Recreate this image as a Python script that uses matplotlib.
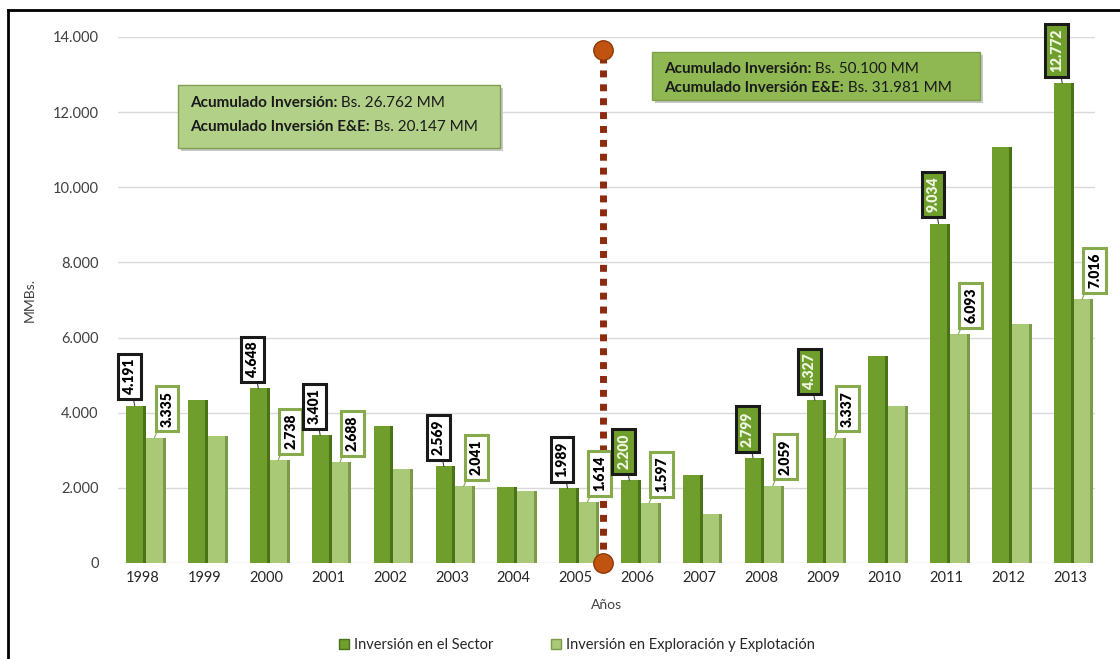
import matplotlib.pyplot as plt
import numpy as np
from matplotlib.patches import FancyBboxPatch, Patch
from matplotlib.lines import Line2D
from matplotlib.text import Annotation

plt.rcParams['font.family'] = ['Lato', 'DejaVu Sans']

years = ['1998', '1999', '2000', '2001', '2002', '2003', '2004', '2005',
         '2006', '2007', '2008', '2009', '2010', '2011', '2012', '2013']
sector = [4191, 4330, 4648, 3401, 3650, 2569, 2010, 1989,
          2200, 2350, 2799, 4327, 5500, 9034, 11060, 12772]
exploracion = [3335, 3380, 2738, 2688, 2500, 2041, 1920, 1614,
               1597, 1310, 2059, 3337, 4170, 6093, 6350, 7016]
# labels shown in the chart (None = no label)
sector_lbl = ['4.191', None, '4.648', '3.401', None, '2.569', None, '1.989',
              '2.200', None, '2.799', '4.327', None, '9.034', None, '12.772']
explor_lbl = ['3.335', None, '2.738', '2.688', None, '2.041', None, '1.614',
              '1.597', None, '2.059', '3.337', None, '6.093', None, '7.016']
yticks = [0, 2000, 4000, 6000, 8000, 10000, 12000, 14000]
ytick_labels = ['0', '2.000', '4.000', '6.000', '8.000', '10.000', '12.000', '14.000']
split_pos = 7.45
box_left = ['Acumulado Inversión:', ' Bs. 26.762 MM',
            'Acumulado Inversión E&E:', ' Bs. 20.147 MM']
box_right = ['Acumulado Inversión:', ' Bs. 50.100 MM',
             'Acumulado Inversión E&E:', ' Bs. 31.981 MM']

dark = '#6f9e2c'
dark_side = '#4a7318'
light = '#a9c977'
light_side = '#7c9b4a'

fig = plt.figure(figsize=(11.2, 6.59), dpi=100)
ax = fig.add_axes([118 / 1120, 1 - 563 / 659, (1095 - 118) / 1120, (563 - 37) / 659])

x = np.arange(len(years))
w = 0.27
side = 0.05
ax.bar(x - 0.13, sector, w, color=dark, zorder=3)
ax.bar(x - 0.13 + w / 2 + side / 2, sector, side, color=dark_side, zorder=3)
ax.bar(x + 0.19, exploracion, w, color=light, zorder=3)
ax.bar(x + 0.19 + w / 2 + side / 2, exploracion, side, color=light_side, zorder=3)

ax.set_xlim(-0.4, 15.4)
ax.set_ylim(0, 14000)
ax.set_yticks(yticks)
ax.set_yticklabels(ytick_labels, color='#404040', fontsize=10.5)
ax.set_xticks(x)
ax.set_xticklabels(years, color='#262626', fontsize=10.5)
ax.tick_params(length=0, pad=14)
ax.tick_params(axis='x', pad=6)
ax.grid(axis='y', color='#d9d9d9', linewidth=1, zorder=0)
for s in ax.spines.values():
    s.set_visible(False)
ax.set_ylabel('MMBs.', fontsize=10, color='#404040', labelpad=12)
ax.set_xlabel('Años', fontsize=10, color='#404040', labelpad=10)

# value labels
for i in range(len(years)):
    if sector_lbl[i]:
        green = i >= 8
        ax.annotate(sector_lbl[i], xy=(i - 0.13, sector[i]), xytext=(-4, 8),
                    textcoords='offset points', rotation=90, ha='center', va='bottom',
                    fontsize=10, fontweight='heavy',
                    color='#eef6e0' if green else 'black',
                    bbox=dict(boxstyle='square,pad=0.35', fc=dark if green else 'white',
                              ec='#1a1a1a', lw=2.2),
                    arrowprops=dict(arrowstyle='-', color='#444444', lw=0.8,
                                    shrinkA=0, shrinkB=0), zorder=5)
    if explor_lbl[i]:
        ax.annotate(explor_lbl[i], xy=(i + 0.19, exploracion[i]), xytext=(9, 8),
                    textcoords='offset points', rotation=90, ha='center', va='bottom',
                    fontsize=10, fontweight='heavy', color='black',
                    bbox=dict(boxstyle='square,pad=0.35', fc='white',
                              ec='#86aa4c', lw=2.2),
                    arrowprops=dict(arrowstyle='-', color='#86aa4c', lw=0.8,
                                    shrinkA=0, shrinkB=0), zorder=5)

# split line
ax.plot([split_pos, split_pos], [0, 13650], linestyle=(0, (1, 1)), color='#8e2a0e',
        lw=5, zorder=4, clip_on=False)
ax.plot([split_pos, split_pos], [0, 13650], 'o', ms=14, color='#c0530f',
        mec='#8e3a08', zorder=6, clip_on=False)


# accumulated boxes
def acc_box(x0, y0, x1, y1, fc, texts, rows):
    fx0, fx1 = x0 / 1120, x1 / 1120
    fy0, fy1 = 1 - y1 / 659, 1 - y0 / 659
    sh = FancyBboxPatch((fx0 + 0.003, fy0 - 0.005), fx1 - fx0, fy1 - fy0,
                        boxstyle='square,pad=0', transform=fig.transFigure,
                        fc='#c8c8c8', ec='none', zorder=1)
    fig.patches.append(sh)
    p = FancyBboxPatch((fx0, fy0), fx1 - fx0, fy1 - fy0, boxstyle='square,pad=0',
                       transform=fig.transFigure, fc=fc, ec='#7f9f4f', lw=1, zorder=2)
    fig.patches.append(p)
    tx = fx0 + 12 / 1120
    for k, ry in enumerate(rows):
        b = fig.text(tx, 1 - ry / 659, texts[2 * k], fontsize=11, fontweight='bold',
                     color='#1a1a1a', va='center', zorder=3)
        fig.add_artist(Annotation(texts[2 * k + 1], xy=(1, 0.5), xycoords=b,
                                  va='center', fontsize=11, color='#1a1a1a',
                                  annotation_clip=False, zorder=3))


acc_box(178, 85, 500, 148, '#b2d088', box_left, [103, 127])
acc_box(652, 52, 980, 100, '#8fb852', box_right, [69, 88])

# legend
handles = [Patch(fc=dark, ec=dark_side), Patch(fc=light, ec=light_side)]
fig.legend(handles, ['Inversión en el Sector', 'Inversión en Exploración y Explotación'],
           loc='center', bbox_to_anchor=(0.515, 1 - 645 / 659), ncol=2, frameon=False,
           fontsize=10.5, handlelength=0.7, handleheight=0.7, handletextpad=0.3,
           columnspacing=4.0, labelcolor='#262626')

# outer frame (left and top)
fig.add_artist(Line2D([8 / 1120, 8 / 1120], [0, 1 - 10 / 659], color='black', lw=2))
fig.add_artist(Line2D([8 / 1120, 1], [1 - 10 / 659, 1 - 10 / 659], color='black', lw=2))

fig.savefig('out.png', dpi=100)
